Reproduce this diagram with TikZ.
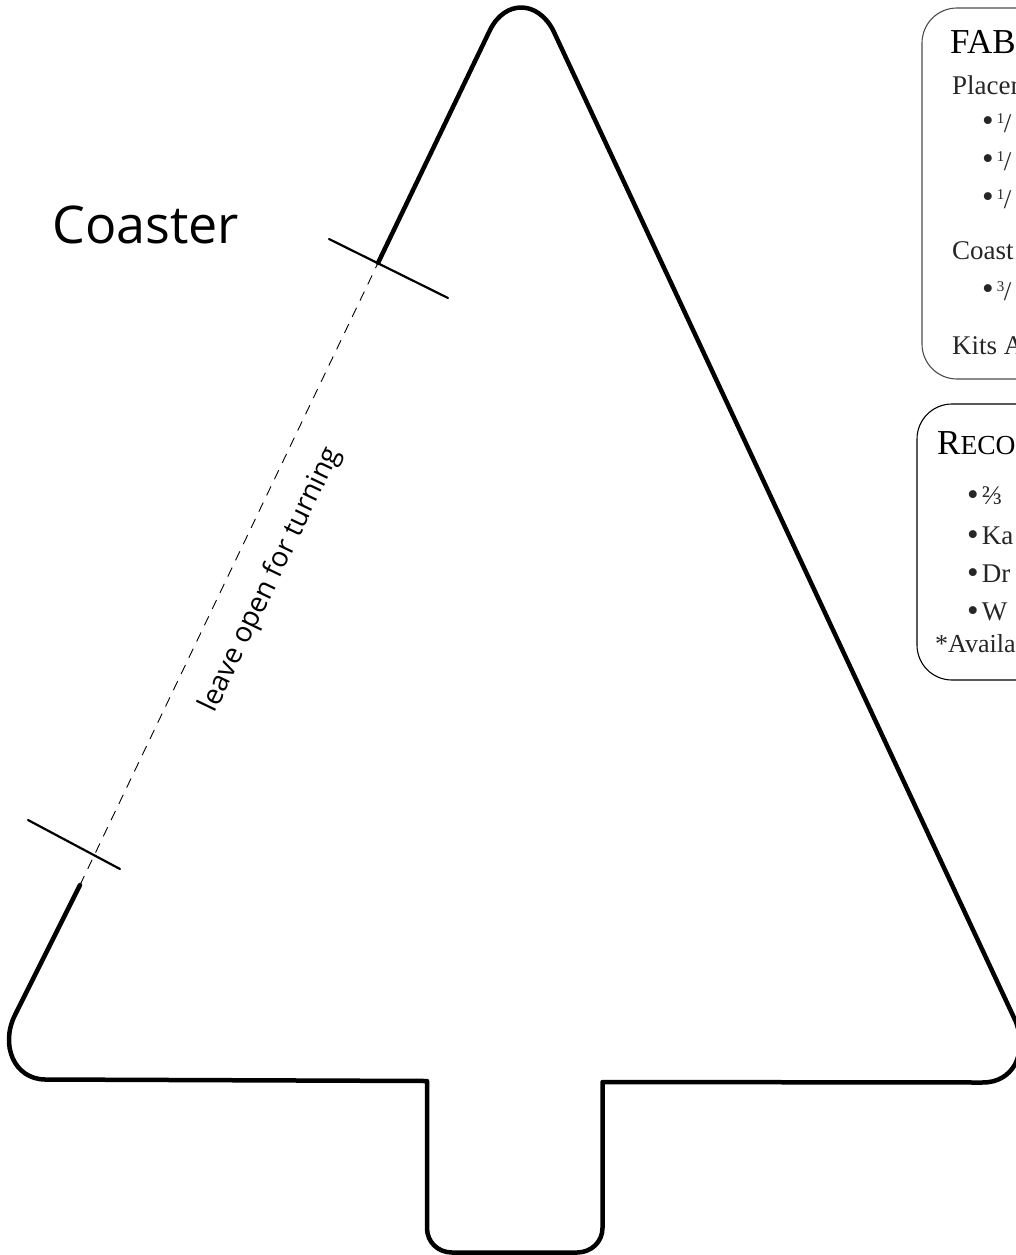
\documentclass[tikz,border=0pt]{standalone}
\usepackage{fontspec}
\setmainfont{Liberation Serif}
\newfontfamily\labelfont{Open Sans}
\newcommand{\fr}[1]{\raisebox{7pt}{\fontsize{15}{15}\selectfont #1}\kern-0.5pt\raisebox{-2pt}{/}}
\newcommand{\bul}{\raisebox{-1.5pt}{\fontsize{33}{33}\selectfont •}}
\tikzset{
  x=1pt,y=-1pt,
  outline/.style={line width=4.5pt,line join=round,line cap=round,black},
  tick/.style={line width=2.2pt,line cap=round,black},
  fold/.style={line width=0.9pt,dash pattern=on 10pt off 8pt,black},
  panel/.style={line width=1.1pt,rounded corners=35pt},
  body/.style={anchor=base west,inner sep=0pt,font=\fontsize{27}{27}\selectfont,text=black!85},
  head/.style={anchor=base west,inner sep=0pt,font=\fontsize{35}{35}\selectfont,text=black},
  dot/.style={anchor=base west,inner sep=0pt,font=\fontsize{27}{27}\selectfont,text=black!85}
}
\begin{document}
\begin{tikzpicture}
\useasboundingbox (0,0) rectangle (1016,1255);
\clip (0,0) rectangle (1016,1255);
% key points
\coordinate (openTop) at (378,263);
\coordinate (openBot) at (80,885);
% outline
\draw[outline] (openTop) -- (490,30) .. controls (505,0) and (537,0) .. (553,30)
  -- (1016,1022) .. controls (1028,1055) and (1012,1083) .. (982,1082.5)
  -- (602.5,1082) -- (602.5,1228) .. controls (602.5,1242) and (591,1252.5) .. (577,1252.5)
  -- (452,1252.5) .. controls (438,1252.5) and (427,1242) .. (427,1228)
  -- (427,1081) -- (45,1079.5) .. controls (14,1079) and (0,1045) .. (15,1015) -- (openBot);
\draw[fold] (openBot) -- (openTop);
\coordinate (t1a) at (329,239); \coordinate (t1b) at (448,298);
\coordinate (t2a) at (28,820); \coordinate (t2b) at (120,869);
\draw[tick] (t1a) -- (t1b);
\draw[tick] (t2a) -- (t2b);
\node[inner sep=0pt,anchor=base west,font=\labelfont\fontsize{52}{52}\selectfont] (title) at (52,243) {Coaster};
\node[inner sep=0pt,rotate=64.4,font=\labelfont\fontsize{28}{28}\selectfont] (turn) at (271,580) {leave open for turning};
% panels
\draw[panel,black!70] (1090,8) -- (922,8) -- (922,379) -- (1090,379);
\draw[panel,black] (1090,404) -- (917,404) -- (917,680) -- (1090,680);
% panel one text
\node[head] (h1) at (950,53) {FAB};
\node[body] (p1) at (952,94) {Placem};
\node[dot] (b1) at (982,130) {\bul\kern3pt\fr{1}};
\node[dot] (b2) at (982,168) {\bul\kern3pt\fr{1}};
\node[dot] (b3) at (982,206) {\bul\kern3pt\fr{1}};
\node[body] (p2) at (952,259) {Coast};
\node[dot] (b4) at (982,298) {\bul\kern3pt\fr{3}};
\node[body] (p3) at (952,354) {Kits A};
% panel two text
\node[head] (h2) at (937,454) {R\fontsize{27.5}{27.5}\selectfont ECO};
\node[dot] (c1) at (967,504) {\bul\kern3pt⅔};
\node[dot] (c2) at (967,544) {\bul\kern3pt Ka};
\node[dot] (c3) at (967,582) {\bul\kern3pt Dr};
\node[dot] (c4) at (967,620) {\bul\kern3pt W};
\node[body,font=\fontsize{26}{26}\selectfont] (n1) at (935,652) {*Availa};
\end{tikzpicture}
\end{document}
